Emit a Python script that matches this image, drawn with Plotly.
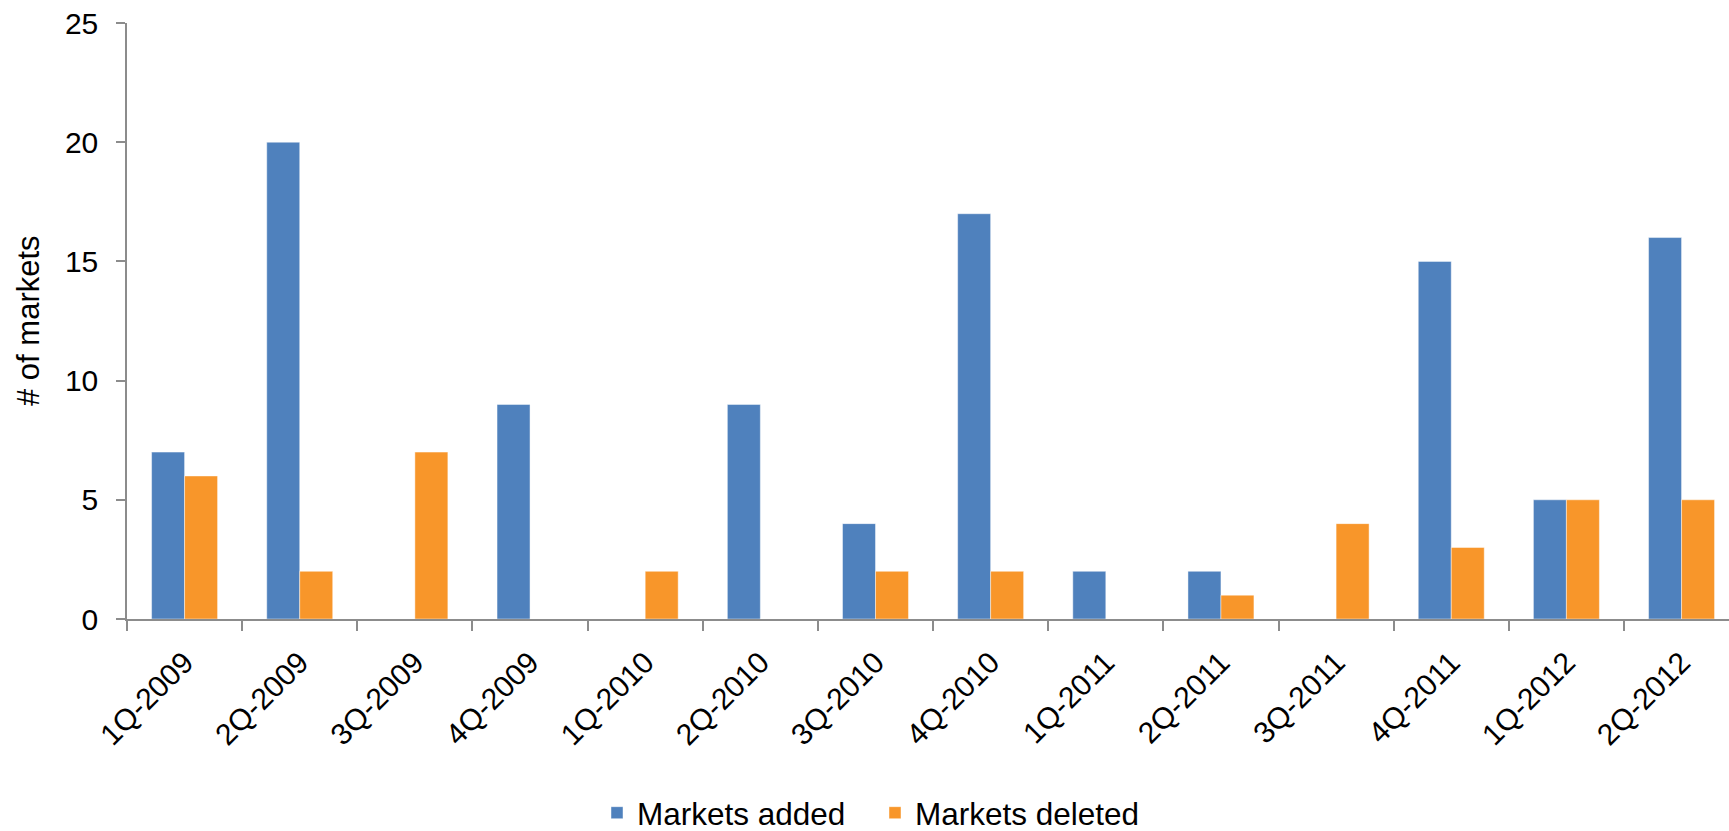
import plotly.graph_objects as go

quarters = ["1Q-2009", "2Q-2009", "3Q-2009", "4Q-2009", "1Q-2010", "2Q-2010", "3Q-2010",
            "4Q-2010", "1Q-2011", "2Q-2011", "3Q-2011", "4Q-2011", "1Q-2012", "2Q-2012"]
markets_added = [7, 20, 0, 9, 0, 9, 4, 17, 2, 2, 0, 15, 5, 16]
markets_deleted = [6, 2, 7, 0, 2, 0, 2, 2, 0, 1, 4, 3, 5, 5]

BLUE = "#4F81BD"
ORANGE = "#F8962A"
AXIS = "#8C8C8C"
FONT = "Liberation Sans, Arial, sans-serif"

fig = go.Figure()
fig.add_trace(go.Bar(x=quarters, y=markets_added, name="Markets added",
                     marker=dict(color=BLUE, line=dict(color="rgba(255,255,255,0.45)", width=1))))
fig.add_trace(go.Bar(x=quarters, y=markets_deleted, name="Markets deleted",
                     marker=dict(color=ORANGE, line=dict(color="rgba(255,255,255,0.45)", width=1))))

W, H = 1729, 831
L, R, T, B = 127, 0, 23, 212
PW = W - L - R
fig.update_layout(
    width=W, height=H,
    margin=dict(l=L, r=R, t=T, b=B, autoexpand=False),
    paper_bgcolor="white", plot_bgcolor="white",
    barmode="group", bargap=0.427, bargroupgap=0,
    font=dict(family=FONT, size=30, color="black"),
    showlegend=True,
    legend=dict(orientation="h", x=(597 - L) / PW, xanchor="left", y=-0.325, yanchor="middle",
                font=dict(size=31.5), itemwidth=30, entrywidth=233, entrywidthmode="pixels",
                traceorder="normal", bgcolor="rgba(0,0,0,0)"),
)
fig.update_xaxes(
    type="category", range=[-0.5, 13.412],
    showline=True, linecolor=AXIS, linewidth=1.5,
    ticks="outside", tickson="boundaries", ticklen=10, tickcolor=AXIS, tickwidth=1.5,
    tickangle=-45, tickfont=dict(size=30), ticklabelstandoff=12,
    showgrid=False, zeroline=False,
)
fig.update_yaxes(
    range=[0, 25], dtick=5, tick0=0,
    showline=True, linecolor=AXIS, linewidth=1.5,
    ticks="outside", ticklen=9, tickcolor=AXIS, tickwidth=1.5,
    ticklabelstandoff=12, tickfont=dict(size=30), showgrid=False, zeroline=False,
)
fig.add_annotation(text="# of markets", textangle=-90, xref="paper", yref="paper",
                   x=(28 - L) / PW, y=0.5, xanchor="center", yanchor="middle",
                   showarrow=False, font=dict(size=31))

fig.write_html("out.html")
